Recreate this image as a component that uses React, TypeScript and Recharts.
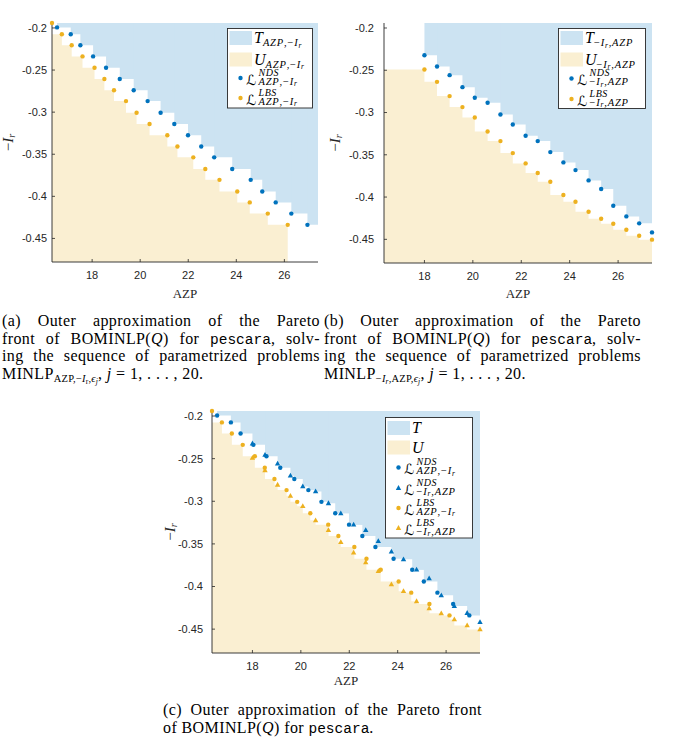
import React from 'react';
import { ComposedChart, Scatter, XAxis, YAxis, ReferenceArea, Legend } from 'recharts';

const SERIF = '"Liberation Serif", "DejaVu Serif", "Times New Roman", serif';
const SANS = '"Liberation Sans", Arial, Helvetica, sans-serif';
const MONO = '"Liberation Mono", "DejaVu Sans Mono", monospace';
const SCRIPT = '"DejaVu Sans", "DejaVu Serif", "Noto Sans", serif';
const AXIS = '#262626';
const BLUE = '#0072BD';
const ORANGE = '#EDB120';
const BLUE_FILL = '#CCE3F2';
const ORANGE_FILL = '#FAEFD2';

// axes
const X_TICKS = [18, 20, 22, 24, 26];
const Y_TICKS = [-0.45, -0.4, -0.35, -0.3, -0.25, -0.2];
const X_DOMAIN: [number, number] = [16.33, 27.4];
const Y_DOMAIN: [number, number] = [-0.478, -0.1941];

// (a) MINLP_{AZP,-Ir,eps_j}
const A_NDS_AZP = [16.54, 17.11, 17.51, 18.04, 18.58, 19.15, 19.73, 20.31, 20.85, 21.42, 21.99, 22.54, 23.08, 23.83, 24.6, 25.08, 25.64, 26.29, 26.96];
const A_NDS_IR = [-0.1993, -0.2075, -0.2205, -0.2338, -0.2472, -0.2606, -0.2739, -0.2869, -0.3007, -0.314, -0.3274, -0.3408, -0.3537, -0.3675, -0.3804, -0.3942, -0.4072, -0.4205, -0.4339];
const A_LBS_AZP = [16.33, 16.74, 17.15, 17.6, 18.1, 18.51, 18.91, 19.41, 19.85, 20.39, 21.13, 21.55, 22.21, 22.71, 23.3, 24.04, 24.56, 25.31, 26.14];
const A_LBS_IR = [-0.1941, -0.2075, -0.2205, -0.2338, -0.2472, -0.2606, -0.2739, -0.2869, -0.3007, -0.314, -0.3274, -0.3408, -0.3537, -0.3675, -0.3804, -0.3942, -0.4072, -0.4205, -0.4339];

// (b) MINLP_{-Ir,AZP,eps_j}
const B_AZP = [18.0, 18.52, 19.04, 19.57, 20.08, 20.61, 21.14, 21.65, 22.18, 22.68, 23.2, 23.74, 24.24, 24.78, 25.3, 25.8, 26.34, 26.87, 27.4];
const B_NDS_IR = [-0.2322, -0.2455, -0.2558, -0.27, -0.2826, -0.2885, -0.3023, -0.3141, -0.3275, -0.3338, -0.3468, -0.359, -0.3681, -0.3803, -0.3905, -0.4103, -0.4229, -0.4311, -0.4418];
const B_LBS_IR = [-0.2491, -0.2637, -0.2806, -0.2936, -0.3058, -0.3224, -0.3338, -0.348, -0.3602, -0.3716, -0.3819, -0.3976, -0.4055, -0.4173, -0.4256, -0.4315, -0.4386, -0.4457, -0.4504];

type P = { x: number; y: number };
const pts = (xs: number[], ys: number[]): P[] => xs.map((x, i) => ({ x, y: ys[i] }));

const A_NDS = pts(A_NDS_AZP, A_NDS_IR);
const A_LBS = pts(A_LBS_AZP, A_LBS_IR);
const B_NDS = pts(B_AZP, B_NDS_IR);
const B_LBS = pts(B_AZP, B_LBS_IR);

const triPath = (cx: number, cy: number) =>
  `M${cx},${cy - 2.9}L${cx + 2.7},${cy + 1.9}L${cx - 2.7},${cy + 1.9}Z`;

const BottomTick = (p: any) => {
  const ay = p.y - p.gap;
  return (
    <g>
      <line x1={p.x} x2={p.x} y1={ay} y2={ay - 3} stroke={AXIS} strokeWidth={0.8} />
      <text x={p.x} y={p.y} dy="0.71em" textAnchor="middle" fontFamily={SANS} fontSize={11} fill={AXIS}>
        {String(p.payload.value)}
      </text>
    </g>
  );
};
const LeftTick = (p: any) => {
  const ax = p.x + p.gap;
  return (
    <g>
      <line x1={ax} x2={ax + 3} y1={p.y} y2={p.y} stroke={AXIS} strokeWidth={0.8} />
      <text x={p.x} y={p.y} dy="0.355em" textAnchor="end" fontFamily={SANS} fontSize={11} fill={AXIS}>
        {String(p.payload.value)}
      </text>
    </g>
  );
};
const TopTick = (p: any) => (
  <line x1={p.x} x2={p.x} y1={p.y} y2={p.y + 3} stroke={AXIS} strokeWidth={0.8} />
);
const RightTick = (p: any) => (
  <line x1={p.x} x2={p.x - 3} y1={p.y} y2={p.y} stroke={AXIS} strokeWidth={0.8} />
);

// math text pieces (SVG)
const SubAI = () => (
  <>
    <tspan fontStyle="italic">AZP</tspan>
    <tspan>,−</tspan>
    <tspan fontStyle="italic">I</tspan>
    <tspan fontStyle="italic" fontSize={7.5} dy={1.5}>r</tspan>
  </>
);
const SubIA = () => (
  <>
    <tspan>−</tspan>
    <tspan fontStyle="italic">I</tspan>
    <tspan fontStyle="italic" fontSize={7.5} dy={1.5}>r</tspan>
    <tspan dy={-1.5}>,</tspan>
    <tspan fontStyle="italic">AZP</tspan>
  </>
);

type Row =
  | { kind: 'patch'; color: string; y: number; base: string; sub?: 'AI' | 'IA' }
  | { kind: 'dot' | 'tri'; color: string; cy: number; sup: string; sub: 'AI' | 'IA' };

const LegendBox = ({ w, h, rows }: { w: number; h: number; rows: Row[] }) => (
  <svg width={w} height={h + 3} style={{ display: 'block', overflow: 'visible' }}>
    <rect x={0.5} y={0.5} width={w - 1} height={h - 1} fill="#fff" stroke={AXIS} strokeWidth={0.9} />
    {rows.map((r, i) => {
      if (r.kind === 'patch') {
        return (
          <g key={i}>
            <rect x={2.5} y={r.y} width={22.5} height={14} fill={r.color} />
            <text x={27} y={r.y + 12} fontFamily={SERIF} fontSize={16} fill="#000">
              <tspan fontStyle="italic">{r.base}</tspan>
              {r.sub ? (
                <tspan fontSize={10.5} dy={3} letterSpacing={0.8}>
                  {r.sub === 'AI' ? <SubAI /> : <SubIA />}
                </tspan>
              ) : null}
            </text>
          </g>
        );
      }
      return (
        <g key={i}>
          {r.kind === 'dot' ? (
            <circle cx={13.5} cy={r.cy} r={2.2} fill={r.color} />
          ) : (
            <path d={triPath(13.5, r.cy)} fill={r.color} />
          )}
          <text x={19} y={r.cy + 6.5} fontFamily={SCRIPT} fontSize={14} fill="#000">ℒ</text>
          <text x={31.5} y={r.cy - 2.5} fontFamily={SERIF} fontSize={10} fontStyle="italic" letterSpacing={0.6} fill="#000">{r.sup}</text>
          <text x={31.5} y={r.cy + 6.5} fontFamily={SERIF} fontSize={10.5} letterSpacing={0.8} fill="#000">
            {r.sub === 'AI' ? <SubAI /> : <SubIA />}
          </text>
        </g>
      );
    })}
  </svg>
);

type Series = { data: P[]; color: string; marker: 'dot' | 'tri' };
type PanelProps = {
  left: number;
  top: number;
  width: number;
  height: number;
  yAxisWidth: number;
  margin: { top: number; right: number; bottom: number; left: number };
  xAxisHeight: number;
  yTickGap: number;
  xTickGap: number;
  yLabelDist: number;
  xLabelDist: number;
  upper: P[][];
  lower: P[][];
  series: Series[];
  legend: React.ReactNode;
  legendPos: { left: number; top: number };
};

const Panel = (pp: PanelProps) => (
  <div style={{ position: 'absolute', left: pp.left, top: pp.top }}>
    <ComposedChart width={pp.width} height={pp.height} margin={pp.margin}>
      <XAxis
        dataKey="x"
        type="number"
        domain={X_DOMAIN}
        ticks={X_TICKS}
        height={pp.xAxisHeight}
        tickSize={0}
        tickMargin={pp.xTickGap}
        tickLine={false}
        axisLine={{ stroke: AXIS, strokeWidth: 0.9 }}
        tick={(p: any) => <BottomTick {...p} gap={pp.xTickGap} />}
        label={{
          content: (lp: any) => {
            const vb = lp.viewBox || {};
            return (
              <text x={vb.x + vb.width / 2} y={vb.y + pp.xLabelDist} dominantBaseline="central" textAnchor="middle" fontFamily={SERIF} fontSize={13} fill={AXIS}>
                AZP
              </text>
            );
          },
        }}
      />
      <YAxis
        dataKey="y"
        type="number"
        domain={Y_DOMAIN}
        ticks={Y_TICKS}
        width={pp.yAxisWidth}
        tickSize={0}
        tickMargin={pp.yTickGap}
        tickLine={false}
        axisLine={{ stroke: AXIS, strokeWidth: 0.9 }}
        tick={(p: any) => <LeftTick {...p} gap={pp.yTickGap} />}
        label={{
          content: (lp: any) => {
            const vb = lp.viewBox || {};
            const cx = vb.x + vb.width - pp.yLabelDist;
            const cy = vb.y + vb.height / 2;
            return (
              <text x={cx} y={cy} transform={`rotate(-90 ${cx} ${cy})`} dominantBaseline="central" textAnchor="middle" fontFamily={SERIF} fontSize={15} fill={AXIS}>
                <tspan>−</tspan>
                <tspan fontStyle="italic">I</tspan>
                <tspan fontStyle="italic" fontSize={10} dy={3}>r</tspan>
              </text>
            );
          },
        }}
      />
      <XAxis
        xAxisId="top"
        orientation="top"
        type="number"
        domain={X_DOMAIN}
        ticks={X_TICKS}
        height={0}
        tickSize={0}
        tickMargin={0}
        tickLine={false}
        axisLine={{ stroke: AXIS, strokeWidth: 0.9 }}
        tick={(p: any) => <TopTick {...p} />}
      />
      <YAxis
        yAxisId="right"
        orientation="right"
        type="number"
        domain={Y_DOMAIN}
        ticks={Y_TICKS}
        width={0}
        tickSize={0}
        tickMargin={0}
        tickLine={false}
        axisLine={{ stroke: AXIS, strokeWidth: 0.9 }}
        tick={(p: any) => <RightTick {...p} />}
      />
      {pp.upper.flatMap((set, si) =>
        set.map((p, i) => (
          <ReferenceArea key={`t${si}-${i}`} x1={p.x} x2={X_DOMAIN[1]} y1={p.y} y2={Y_DOMAIN[1]} fill={BLUE_FILL} fillOpacity={1} stroke="none" />
        ))
      )}
      {pp.lower.flatMap((set, si) =>
        set.map((p, i) => (
          <ReferenceArea key={`u${si}-${i}`} x1={X_DOMAIN[0]} x2={p.x} y1={Y_DOMAIN[0]} y2={p.y} fill={ORANGE_FILL} fillOpacity={1} stroke="none" />
        ))
      )}
      {pp.series.map((s, i) => (
        <Scatter
          key={i}
          data={s.data}
          fill={s.color}
          isAnimationActive={false}
          shape={(sp: any) =>
            s.marker === 'dot' ? (
              <circle cx={sp.cx} cy={sp.cy} r={2.2} fill={s.color} />
            ) : (
              <path d={triPath(sp.cx, sp.cy)} fill={s.color} />
            )
          }
        />
      ))}
      <Legend
        layout="horizontal"
        verticalAlign="middle"
        align="center"
        content={() => pp.legend}
        wrapperStyle={{ position: 'absolute', left: pp.legendPos.left, top: pp.legendPos.top, width: 'auto', height: 'auto', margin: 0 }}
      />
    </ComposedChart>
  </div>
);

// caption helpers (HTML)
const Sub = ({ children, size = 10.5, top = 3 }: any) => (
  <span style={{ fontSize: size, position: 'relative', top, lineHeight: 0, letterSpacing: 0.2 }}>{children}</span>
);
const Mono = ({ children }: any) => <span style={{ fontFamily: MONO, fontSize: 14.5, letterSpacing: 0 }}>{children}</span>;

const Caption = ({ left, top, width, lines }: { left: number; top: number; width: number; lines: React.ReactNode[] }) => (
  <div style={{ position: 'absolute', left, top, width, fontFamily: SERIF, fontSize: 16, lineHeight: '17.7px', color: '#000', letterSpacing: 0.4 }}>
    {lines.map((l, i) => (
      <div key={i} style={{ whiteSpace: 'nowrap', height: 17.7 }}>
        {l}
      </div>
    ))}
  </div>
);

const JLine = ({ children }: any) => (
  <div style={{ display: 'flex', justifyContent: 'space-between' }}>{children}</div>
);

const words = (s: string) => s.split(' ').map((w, i) => <span key={i}>{w}</span>);

export default function App() {
  const legendA = (
    <LegendBox
      w={86}
      h={80.5}
      rows={[
        { kind: 'patch', color: BLUE_FILL, y: 3, base: 'T', sub: 'AI' },
        { kind: 'patch', color: ORANGE_FILL, y: 24.5, base: 'U', sub: 'AI' },
        { kind: 'dot', color: BLUE, cy: 50, sup: 'NDS', sub: 'AI' },
        { kind: 'dot', color: ORANGE, cy: 70, sup: 'LBS', sub: 'AI' },
      ]}
    />
  );
  const legendB = (
    <LegendBox
      w={88}
      h={81}
      rows={[
        { kind: 'patch', color: BLUE_FILL, y: 3, base: 'T', sub: 'IA' },
        { kind: 'patch', color: ORANGE_FILL, y: 24.5, base: 'U', sub: 'IA' },
        { kind: 'dot', color: BLUE, cy: 50.5, sup: 'NDS', sub: 'IA' },
        { kind: 'dot', color: ORANGE, cy: 71, sup: 'LBS', sub: 'IA' },
      ]}
    />
  );
  const legendC = (
    <LegendBox
      w={88}
      h={121.5}
      rows={[
        { kind: 'patch', color: BLUE_FILL, y: 4, base: 'T' },
        { kind: 'patch', color: ORANGE_FILL, y: 23.5, base: 'U' },
        { kind: 'dot', color: BLUE, cy: 50.5, sup: 'NDS', sub: 'AI' },
        { kind: 'tri', color: BLUE, cy: 71, sup: 'NDS', sub: 'IA' },
        { kind: 'dot', color: ORANGE, cy: 91, sup: 'LBS', sub: 'AI' },
        { kind: 'tri', color: ORANGE, cy: 111, sup: 'LBS', sub: 'IA' },
      ]}
    />
  );

  return (
    <div style={{ position: 'absolute', left: 0, top: 0, width: 685, height: 737, background: '#fff', overflow: 'hidden' }}>
      <Panel
        left={0}
        top={0}
        width={330}
        height={305}
        yAxisWidth={52}
        margin={{ top: 23, right: 12, bottom: 0, left: 0 }}
        xAxisHeight={43}
        yTickGap={5}
        xTickGap={9.5}
        yLabelDist={44}
        xLabelDist={31}
        upper={[A_NDS]}
        lower={[A_LBS]}
        series={[
          { data: A_NDS, color: BLUE, marker: 'dot' },
          { data: A_LBS, color: ORANGE, marker: 'dot' },
        ]}
        legend={legendA}
        legendPos={{ left: 227, top: 28 }}
      />
      <Panel
        left={324}
        top={0}
        width={338}
        height={305}
        yAxisWidth={60}
        margin={{ top: 23, right: 10, bottom: 0, left: 0 }}
        xAxisHeight={42}
        yTickGap={10}
        xTickGap={8.7}
        yLabelDist={49}
        xLabelDist={30}
        upper={[B_NDS]}
        lower={[B_LBS]}
        series={[
          { data: B_NDS, color: BLUE, marker: 'dot' },
          { data: B_LBS, color: ORANGE, marker: 'dot' },
        ]}
        legend={legendB}
        legendPos={{ left: 233.7, top: 28 }}
      />
      <Panel
        left={160}
        top={385}
        width={330}
        height={305}
        yAxisWidth={52}
        margin={{ top: 26, right: 10, bottom: 0, left: 0 }}
        xAxisHeight={37}
        yTickGap={9}
        xTickGap={8.7}
        yLabelDist={42}
        xLabelDist={27}
        upper={[A_NDS, B_NDS]}
        lower={[A_LBS, B_LBS]}
        series={[
          { data: A_NDS, color: BLUE, marker: 'dot' },
          { data: B_NDS, color: BLUE, marker: 'tri' },
          { data: A_LBS, color: ORANGE, marker: 'dot' },
          { data: B_LBS, color: ORANGE, marker: 'tri' },
        ]}
        legend={legendC}
        legendPos={{ left: 225, top: 31.7 }}
      />

      <Caption
        left={2}
        top={312}
        width={318}
        lines={[
          <JLine key="1">{words('(a) Outer approximation of the Pareto')}</JLine>,
          <JLine key="2">
            <span>front</span><span>of</span><span>BOMINLP(<i>Q</i>)</span><span>for</span><span><Mono>pescara</Mono>,</span><span>solv-</span>
          </JLine>,
          <JLine key="3">{words('ing the sequence of parametrized problems')}</JLine>,
          <span key="4">
            MINLP<Sub>AZP,−<i>I</i><Sub size={7.5} top={2}>r</Sub>,<i>ϵ</i><Sub size={7.5} top={2}><i>j</i></Sub></Sub>, <i>j</i> = 1, . . . , 20.
          </span>,
        ]}
      />
      <Caption
        left={324}
        top={312}
        width={317}
        lines={[
          <JLine key="1">{words('(b) Outer approximation of the Pareto')}</JLine>,
          <JLine key="2">
            <span>front</span><span>of</span><span>BOMINLP(<i>Q</i>)</span><span>for</span><span><Mono>pescara</Mono>,</span><span>solv-</span>
          </JLine>,
          <JLine key="3">{words('ing the sequence of parametrized problems')}</JLine>,
          <span key="4">
            MINLP<Sub>−<i>I</i><Sub size={7.5} top={2}><i>r</i></Sub>,AZP,<i>ϵ</i><Sub size={7.5} top={2}><i>j</i></Sub></Sub>, <i>j</i> = 1, . . . , 20.
          </span>,
        ]}
      />
      <Caption
        left={163}
        top={701}
        width={319}
        lines={[
          <JLine key="1">{words('(c) Outer approximation of the Pareto front')}</JLine>,
          <span key="2">
            of BOMINLP(<i>Q</i>) for <Mono>pescara</Mono>.
          </span>,
        ]}
      />
    </div>
  );
}
